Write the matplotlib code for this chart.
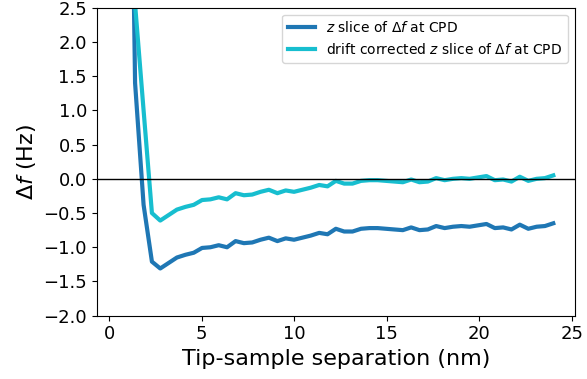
import matplotlib
matplotlib.use("Agg")
import matplotlib.pyplot as plt
from matplotlib.ticker import MultipleLocator

# tip-sample separation (nm)
separation = [0.50, 0.95, 1.40, 1.86, 2.31, 2.76, 3.21, 3.66, 4.12, 4.57,
              5.02, 5.47, 5.92, 6.37, 6.83, 7.28, 7.73, 8.18, 8.63, 9.09,
              9.54, 9.99, 10.44, 10.89, 11.35, 11.80, 12.25, 12.70, 13.15, 13.61,
              14.06, 14.51, 14.96, 15.41, 15.87, 16.32, 16.77, 17.22, 17.67, 18.13,
              18.58, 19.03, 19.48, 19.93, 20.39, 20.84, 21.29, 21.74, 22.19, 22.65,
              23.10, 23.55, 24.00]

# z slice of df at CPD (Hz)
df_raw = [30.0, 9.8, 1.40, -0.38, -1.21, -1.31, -1.23, -1.15, -1.11, -1.08,
          -1.01, -1.00, -0.97, -1.00, -0.91, -0.94, -0.93, -0.89, -0.86, -0.91,
          -0.87, -0.89, -0.86, -0.83, -0.79, -0.81, -0.73, -0.77, -0.77, -0.73,
          -0.72, -0.72, -0.73, -0.74, -0.75, -0.71, -0.75, -0.74, -0.69, -0.72,
          -0.70, -0.69, -0.70, -0.68, -0.66, -0.72, -0.71, -0.74, -0.67, -0.73,
          -0.70, -0.69, -0.65]

# drift corrected z slice of df at CPD (Hz)
df_corr = [34.0, 12.5, 2.55, 1.00, -0.50, -0.61, -0.53, -0.45, -0.41, -0.38,
           -0.31, -0.30, -0.27, -0.30, -0.21, -0.24, -0.23, -0.19, -0.16, -0.21,
           -0.17, -0.19, -0.16, -0.13, -0.09, -0.11, -0.03, -0.07, -0.07, -0.03,
           -0.02, -0.02, -0.03, -0.04, -0.05, -0.01, -0.05, -0.04, 0.01, -0.02,
           0.00, 0.01, 0.00, 0.02, 0.04, -0.02, -0.01, -0.04, 0.03, -0.03,
           0.00, 0.01, 0.05]

fig = plt.figure(figsize=(5.87, 3.79), dpi=100)
ax = fig.add_axes([0.1647, 0.167, 0.8149, 0.8127])

ax.plot(separation, df_raw, color='#1f77b4', lw=3, label=r'$z$ slice of $\Delta f$ at CPD')
ax.plot(separation, df_corr, color='#17becf', lw=3,
        label=r'drift corrected $z$ slice of $\Delta f$ at CPD')
ax.axhline(0, color='k', lw=1)

ax.set_ylim(-2.0, 2.5)
ax.yaxis.set_major_locator(MultipleLocator(0.5))
ax.set_xlabel('Tip-sample separation (nm)', fontsize=16)
ax.set_ylabel(r'$\Delta f$ (Hz)', fontsize=16)
ax.tick_params(labelsize=13)
ax.legend(loc='upper right', fontsize=10)

fig.savefig('out.png', dpi=100)
